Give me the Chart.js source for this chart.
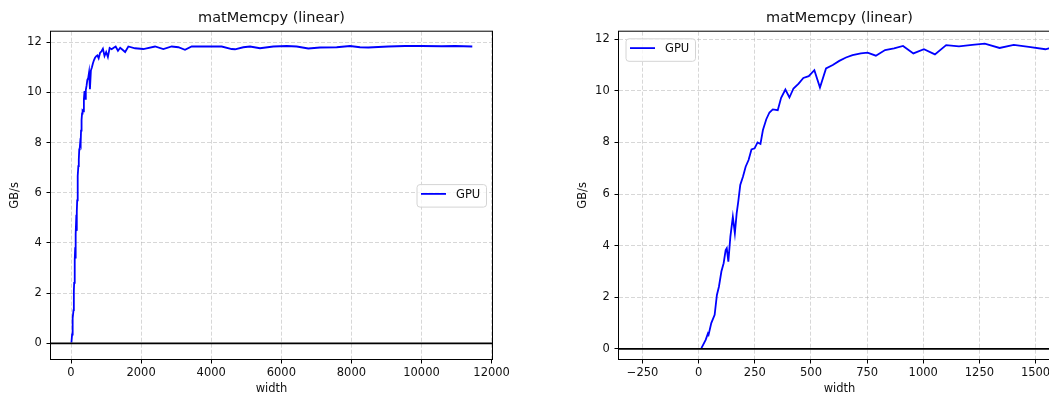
<!DOCTYPE html>
<html>
<head>
<meta charset="utf-8">
<script src="https://cdn.jsdelivr.net/npm/chart.js@4"></script>
<style>
  html, body { margin: 0; padding: 0; background: #fff; overflow: hidden; width: 1049px; height: 396px; }
  canvas { position: absolute; top: 0; }
  #left { left: 0; }
  #right { left: 560px; }
</style>
</head>
<body>
<canvas id="left" width="525" height="396"></canvas>
<canvas id="right" width="540" height="396"></canvas>
<script>
// datos
const titleText = 'matMemcpy (linear)';
const seriesLabel = 'GPU';
const widths = [12, 31, 41, 44, 56, 71, 81, 90, 101, 111, 120, 125, 132, 141, 152, 161, 169, 176, 185, 197,
  209, 222, 235, 249, 262, 275, 286, 301, 315, 330, 352, 367, 386, 404, 422, 445, 466, 490, 515, 540,
  567, 597, 626, 656, 685, 722, 752, 789, 830, 870, 910, 956, 1003, 1052, 1102, 1159, 1218, 1274, 1340, 1403,
  1470, 1544, 1636, 1826, 2063, 2397, 2634, 2873, 3062, 3252, 3443, 3823, 4299, 4585, 4679, 4916, 5107, 5392,
  5772, 6154, 6439, 6770, 7104, 7580, 7960, 8245, 8483, 9053, 9529, 10005, 10576, 10956, 11449];
const gbps = [0.03, 0.35, 0.6, 0.55, 1.0, 1.32, 2.09, 2.41, 3.0, 3.32, 3.83, 3.9, 3.38, 4.35, 5.12, 4.48, 5.25, 5.7, 6.35, 6.67,
  7.06, 7.32, 7.73, 7.77, 8.0, 7.94, 8.48, 8.9, 9.16, 9.28, 9.25, 9.73, 10.05, 9.74, 10.09, 10.28, 10.5, 10.57, 10.8, 10.13,
  10.87, 11.0, 11.16, 11.29, 11.38, 11.45, 11.48, 11.36, 11.58, 11.64, 11.74, 11.45, 11.61, 11.41, 11.77, 11.72, 11.78, 11.83, 11.66, 11.78,
  11.70, 11.61, 11.83, 11.76, 11.73, 11.83, 11.73, 11.83, 11.8, 11.7, 11.83, 11.83, 11.83, 11.73, 11.72, 11.8, 11.83, 11.76,
  11.83, 11.85, 11.83, 11.75, 11.79, 11.8, 11.85, 11.8, 11.79, 11.83, 11.85, 11.85, 11.84, 11.85, 11.83];

const leftXTicks = [0, 2000, 4000, 6000, 8000, 10000, 12000];
const rightXTicks = [-250, 0, 250, 500, 750, 1000, 1250, 1500];
const yTicks = [0, 2, 4, 6, 8, 10, 12];

const FONT = 'DejaVu Sans';
const TXT = '#111';

// título, línea en y=0, marco y leyenda al estilo matplotlib
const mplDecor = {
    id: 'mplDecor',
    afterDatasetsDraw(chart) {
        const { ctx, chartArea: a, scales } = chart;
        const y0 = scales.y.getPixelForValue(0);
        ctx.save();
        ctx.strokeStyle = '#000';
        ctx.lineWidth = 1.7;
        ctx.beginPath();
        ctx.moveTo(a.left, y0);
        ctx.lineTo(a.right, y0);
        ctx.stroke();
        ctx.restore();
    },
    afterDraw(chart, args, opts) {
        const { ctx, chartArea: a } = chart;
        ctx.save();
        // marco
        ctx.strokeStyle = '#000';
        ctx.lineWidth = 1;
        ctx.strokeRect(a.left - 0.5, a.top - 0.5, a.right - a.left + 1, a.bottom - a.top + 1);

        // título
        ctx.fillStyle = TXT;
        ctx.font = '14.5px "' + FONT + '"';
        ctx.textAlign = 'center';
        ctx.textBaseline = 'middle';
        ctx.fillText(opts.title, (a.left + a.right) / 2, 18);

        // leyenda
        const ds = chart.data.datasets[0];
        const bw = 69.5, bh = 22.5;
        let bx, by;
        if (opts.legendAt === 'center right') {
            bx = a.right - 6 - bw;
            by = (a.top + a.bottom) / 2 - bh / 2;
        } else {
            bx = a.left + 6.5;
            by = a.top + 6.6;
        }
        ctx.beginPath();
        ctx.roundRect(bx + 0.5, by + 0.5, bw, bh, 3);
        ctx.fillStyle = 'rgba(255,255,255,0.8)';
        ctx.fill();
        ctx.strokeStyle = '#d4d4d4';
        ctx.lineWidth = 1;
        ctx.stroke();
        ctx.beginPath();
        ctx.strokeStyle = ds.borderColor;
        ctx.lineWidth = ds.borderWidth;
        ctx.moveTo(bx + 4.5, by + 9.8);
        ctx.lineTo(bx + 29.5, by + 9.8);
        ctx.stroke();
        ctx.fillStyle = TXT;
        ctx.font = '11.5px "' + FONT + '"';
        ctx.textAlign = 'left';
        ctx.textBaseline = 'middle';
        ctx.fillText(ds.label, bx + 39.5, by + 11);
        ctx.restore();
    }
};

function fmt(v) {
    return v < 0 ? '\u2212' + Math.abs(v) : String(v);
}

function makeChart(id, cfg) {
    const ctx = document.getElementById(id).getContext('2d');
    return new Chart(ctx, {
        type: 'line',
        data: {
            datasets: [{
                label: seriesLabel,
                data: widths.map((w, i) => ({ x: w, y: gbps[i] })),
                borderColor: '#0000ff',
                borderWidth: 1.8,
                pointRadius: 0,
                tension: 0,
                fill: false
            }]
        },
        options: {
            responsive: false,
            animation: false,
            devicePixelRatio: 1,
            layout: { padding: { left: 0, right: cfg.padRight, top: 31.7, bottom: 0 } },
            plugins: {
                legend: { display: false },
                title: { display: false },
                tooltip: { enabled: false },
                mplDecor: { title: titleText, legendAt: cfg.legendAt }
            },
            scales: {
                x: {
                    type: 'linear',
                    min: cfg.xMin,
                    max: cfg.xMax,
                    afterBuildTicks: s => { s.ticks = cfg.xTicks.map(v => ({ value: v })); },
                    afterFit: s => {
                        s.height = 37;
                        s.paddingLeft = s.paddingRight = s.paddingTop = s.paddingBottom = 0;
                    },
                    ticks: {
                        color: TXT,
                        font: { family: FONT, size: 11.5 },
                        padding: 3,
                        maxRotation: 0,
                        autoSkip: false,
                        callback: v => fmt(v)
                    },
                    grid: {
                        color: 'rgba(176,176,176,0.5)',
                        lineWidth: 1,
                        tickColor: '#000',
                        tickLength: 4.5,
                        tickWidth: 1
                    },
                    border: { display: false, dash: [4, 2] },
                    title: {
                        display: true,
                        text: 'width',
                        color: TXT,
                        font: { family: FONT, size: 11.5 },
                        padding: { top: 0, bottom: 0 }
                    }
                },
                y: {
                    type: 'linear',
                    min: cfg.yMin,
                    max: cfg.yMax,
                    afterBuildTicks: s => { s.ticks = yTicks.map(v => ({ value: v })); },
                    afterFit: s => {
                        s.width = cfg.yWidth;
                        s.paddingLeft = s.paddingRight = s.paddingTop = s.paddingBottom = 0;
                    },
                    ticks: {
                        color: TXT,
                        font: { family: FONT, size: 11.5 },
                        padding: 4.8,
                        autoSkip: false,
                        callback: v => fmt(v)
                    },
                    grid: {
                        color: 'rgba(176,176,176,0.5)',
                        lineWidth: 1,
                        tickColor: '#000',
                        tickLength: 4.5,
                        tickWidth: 1
                    },
                    border: { display: false, dash: [4, 2] },
                    title: {
                        display: true,
                        text: 'GB/s',
                        color: TXT,
                        font: { family: FONT, size: 11.5 },
                        padding: { top: cfg.yTitlePad, bottom: 0 }
                    }
                }
            }
        },
        plugins: [mplDecor]
    });
}

document.addEventListener('DOMContentLoaded', () => {
    // gráfico completo
    makeChart('left', {
        xMin: -571, xMax: 12011, xTicks: leftXTicks,
        yMin: -0.626, yMax: 12.42,
        padRight: 33, yWidth: 51, yTitlePad: 8.6,
        legendAt: 'center right'
    });
    // detalle de anchos pequeños
    makeChart('right', {
        xMin: -355, xMax: 1609, xTicks: rightXTicks,
        yMin: -0.39, yMax: 12.29,
        padRight: 40, yWidth: 59, yTitlePad: 16.6,
        legendAt: 'upper left'
    });
});
</script>
</body>
</html>
